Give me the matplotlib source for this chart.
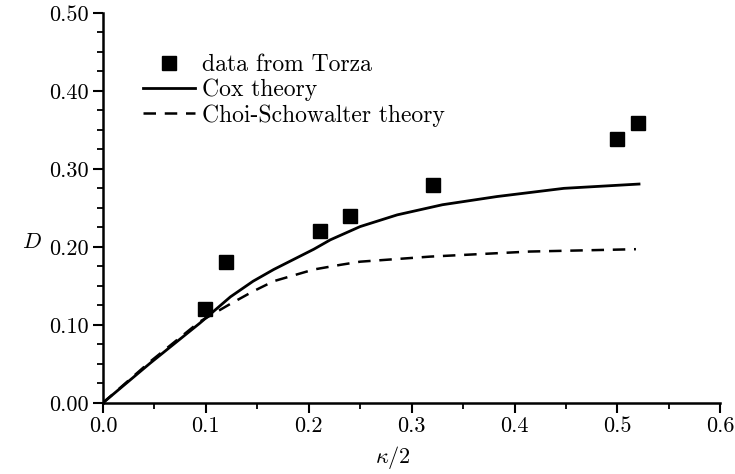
import numpy as np
import matplotlib
matplotlib.use("Agg")
import matplotlib.pyplot as plt
from matplotlib.ticker import MultipleLocator, FormatStrFormatter

plt.rcParams['font.family'] = ['cmr10', 'DejaVu Serif']
plt.rcParams['mathtext.fontset'] = 'cm'
plt.rcParams['axes.formatter.use_mathtext'] = True

# measured deformation (Torza)
kappa_data = [0.099, 0.120, 0.211, 0.240, 0.321, 0.500, 0.520]
D_data = [0.120, 0.180, 0.220, 0.240, 0.279, 0.338, 0.359]

# Cox theory curve
kappa_cox = [0.0, 0.046, 0.094, 0.124, 0.146, 0.166, 0.205, 0.221, 0.250, 0.286, 0.330, 0.383, 0.448, 0.521]
D_cox = [0.0, 0.051, 0.102, 0.136, 0.156, 0.171, 0.197, 0.209, 0.226, 0.241, 0.254, 0.2645, 0.275, 0.2805]

# Choi-Schowalter theory curve
kappa_cs = [0.0, 0.046, 0.094, 0.124, 0.146, 0.166, 0.205, 0.231, 0.250, 0.318, 0.415, 0.518]
D_cs = [0.0, 0.053, 0.104, 0.127, 0.143, 0.156, 0.171, 0.177, 0.181, 0.1875, 0.194, 0.197]

fig = plt.figure(figsize=(7.35, 4.74), dpi=100)
ax = fig.add_axes([0.140, 0.150, 0.840, 0.823])

ax.plot(kappa_data, D_data, 's', color='black', markersize=10, label='data from Torza')
ax.plot(kappa_cox, D_cox, '-', color='black', linewidth=2.0, label='Cox theory')
ax.plot(kappa_cs, D_cs, '--', color='black', linewidth=1.8, dashes=(5, 3.5),
        label='Choi-Schowalter theory')

ax.set_xlim(0, 0.6)
ax.set_ylim(0, 0.5)
ax.xaxis.set_major_locator(MultipleLocator(0.1))
ax.xaxis.set_minor_locator(MultipleLocator(0.05))
ax.yaxis.set_major_locator(MultipleLocator(0.1))
ax.yaxis.set_minor_locator(MultipleLocator(0.025))
ax.xaxis.set_major_formatter(FormatStrFormatter('%.1f'))
ax.yaxis.set_major_formatter(FormatStrFormatter('%.2f'))

for side in ['top', 'right']:
    ax.spines[side].set_visible(False)
for side in ['left', 'bottom']:
    ax.spines[side].set_linewidth(1.8)

ax.tick_params(which='major', direction='out', length=7, width=1.5, labelsize=16, pad=3)
ax.tick_params(which='minor', direction='out', length=4, width=1.3)

ax.set_xlabel(r'$\kappa/2$', fontsize=16)
ax.xaxis.set_label_coords(0.47, -0.105)
ax.set_ylabel(r'$D$', fontsize=16, rotation=0, va='center')
ax.yaxis.set_label_coords(-0.115, 0.413)

ax.legend(loc='upper left', bbox_to_anchor=(0.065, 0.895), frameon=False,
          fontsize=17, handlelength=2.2, handletextpad=0.3, labelspacing=0.12,
          borderaxespad=0, borderpad=0)

fig.savefig('out.png', dpi=100)
